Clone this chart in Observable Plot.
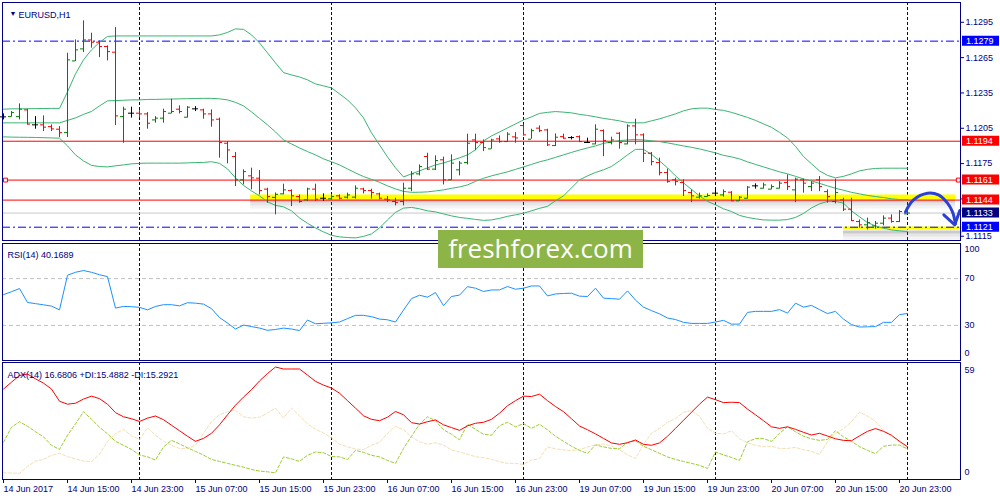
<!DOCTYPE html>
<html>
<head>
<meta charset="utf-8">
<title>EURUSD,H1</title>
<script src="https://cdn.jsdelivr.net/npm/d3@7"></script>
<script src="https://cdn.jsdelivr.net/npm/@observablehq/plot@0.6"></script>
<style>
  html, body { margin: 0; padding: 0; background: #ffffff; }
  #chart { position: relative; width: 1000px; height: 500px; overflow: hidden; background: #ffffff; }
  #chart svg { position: absolute; left: 0; }
  #wm { position: absolute; left: 438px; top: 230px; width: 205px; height: 38px; background: #8cb446; color: #ffffff;
        font-family: 'Open Sans', sans-serif; font-size: 26px; line-height: 36px; text-align: center; z-index: 5; }
</style>
</head>
<body>
<div id="chart"><div id="wm">freshforex.com</div></div>
<script>
// ---------------- DATA ----------------
const dateLabels = ["14 Jun 2017","14 Jun 15:00","14 Jun 23:00","15 Jun 07:00","15 Jun 15:00","15 Jun 23:00","16 Jun 07:00","16 Jun 15:00","16 Jun 23:00","19 Jun 07:00","19 Jun 15:00","19 Jun 23:00","20 Jun 07:00","20 Jun 15:00","20 Jun 23:00"];
const dateTickBars = [0,8,16,24,32,40,48,56,64,72,80,88,96,104,112];
const daySeparators = [17,41,65,89,113];
const priceTicks = [1.1145,1.1175,1.1205,1.1235,1.1265,1.1295];
const priceTickBottom = [1.1115];

const open = [1.12147,1.12149,1.12149,1.12206,1.12079,1.12079,1.12064,1.12042,1.12013,1.12622,
 1.12724,1.12800,1.12781,1.12744,1.12696,1.12149,1.12178,1.12178,1.12172,1.12121,
 1.12136,1.12178,1.12212,1.12144,1.12215,1.12206,1.12172,1.12127,1.11923,1.11810,
 1.11612,1.11646,1.11626,1.11533,1.11463,1.11493,1.11521,1.11470,1.11442,1.11533,
 1.11456,1.11451,1.11476,1.11465,1.11465,1.11535,1.11521,1.11493,1.11448,1.11428,
 1.11428,1.11541,1.11663,1.11810,1.11703,1.11782,1.11612,1.11697,1.11759,1.11951,
 1.11929,1.11875,1.11960,1.11937,1.11977,1.12073,1.11957,1.12051,1.12036,1.11903,
 1.11979,1.11971,1.11979,1.11929,1.11917,1.12030,1.11929,1.12008,1.11917,1.12070,
 1.11994,1.11838,1.11759,1.11674,1.11612,1.11589,1.11504,1.11465,1.11470,1.11499,
 1.11484,1.11507,1.11434,1.11456,1.11561,1.11541,1.11533,1.11541,1.11589,1.11527,
 1.11612,1.11555,1.11612,1.11512,1.11428,1.11442,1.11363,1.11258,1.11230,1.11221,
 1.11244,1.11287,1.11258,1.11323];
const high = [1.12172,1.12192,1.12257,1.12212,1.12149,1.12155,1.12079,1.12064,1.12687,1.12800,
 1.12962,1.12857,1.12792,1.12750,1.12905,1.12229,1.12229,1.12200,1.12183,1.12149,
 1.12212,1.12297,1.12240,1.12234,1.12234,1.12212,1.12206,1.12136,1.11937,1.11844,
 1.11697,1.11711,1.11691,1.11541,1.11501,1.11575,1.11527,1.11484,1.11541,1.11575,
 1.11493,1.11484,1.11484,1.11499,1.11561,1.11541,1.11533,1.11499,1.11470,1.11456,
 1.11584,1.11682,1.11739,1.11838,1.11816,1.11805,1.11824,1.11767,1.12000,1.12000,
 1.11951,1.11957,1.11985,1.12013,1.12013,1.12079,1.12042,1.12070,1.12042,1.12002,
 1.12000,1.11979,1.11985,1.11966,1.12079,1.12036,1.11974,1.12013,1.12079,1.12127,
 1.12002,1.11844,1.11796,1.11703,1.11626,1.11612,1.11527,1.11499,1.11493,1.11541,
 1.11527,1.11512,1.11470,1.11555,1.11578,1.11584,1.11569,1.11597,1.11654,1.11626,
 1.11618,1.11597,1.11640,1.11527,1.11618,1.11456,1.11456,1.11272,1.11287,1.11258,
 1.11306,1.11315,1.11351,1.11351];
const low = [1.12121,1.12144,1.12121,1.12079,1.12042,1.12022,1.12022,1.11971,1.11971,1.12616,
 1.12693,1.12730,1.12650,1.12622,1.12073,1.11923,1.12136,1.12136,1.12042,1.12093,
 1.12093,1.12172,1.12172,1.12136,1.12192,1.12127,1.12059,1.11796,1.11748,1.11555,
 1.11569,1.11527,1.11484,1.11414,1.11315,1.11484,1.11385,1.11414,1.11428,1.11428,
 1.11428,1.11442,1.11442,1.11448,1.11448,1.11493,1.11448,1.11442,1.11419,1.11391,
 1.11391,1.11512,1.11646,1.11691,1.11691,1.11569,1.11606,1.11646,1.11739,1.11860,
 1.11852,1.11872,1.11923,1.11929,1.11923,1.11985,1.11957,1.12013,1.11895,1.11895,
 1.11957,1.11951,1.11929,1.11923,1.11909,1.11809,1.11909,1.11872,1.11909,1.11909,
 1.11759,1.11731,1.11646,1.11584,1.11561,1.11470,1.11419,1.11448,1.11465,1.11470,
 1.11465,1.11428,1.11428,1.11448,1.11533,1.11533,1.11527,1.11533,1.11521,1.11419,
 1.11499,1.11512,1.11512,1.11414,1.11408,1.11343,1.11258,1.11202,1.11187,1.11193,
 1.11221,1.11244,1.11249,1.11315];
const close = [1.12147,1.12183,1.12212,1.12085,1.12079,1.12059,1.12045,1.12013,1.12631,1.12716,
 1.12800,1.12781,1.12744,1.12701,1.12155,1.12212,1.12178,1.12172,1.12093,1.12136,
 1.12192,1.12192,1.12192,1.12229,1.12215,1.12172,1.12121,1.11929,1.11866,1.11612,
 1.11682,1.11629,1.11521,1.11470,1.11489,1.11527,1.11476,1.11428,1.11535,1.11448,
 1.11456,1.11470,1.11456,1.11484,1.11541,1.11521,1.11504,1.11456,1.11442,1.11419,
 1.11541,1.11663,1.11725,1.11703,1.11776,1.11612,1.11754,1.11754,1.11923,1.11929,
 1.11886,1.11951,1.11937,1.12000,1.11968,1.11994,1.12030,1.12030,1.11909,1.11974,
 1.11966,1.11971,1.11937,1.11929,1.12042,1.11945,1.11951,1.11929,1.12070,1.11994,
 1.11838,1.11767,1.11674,1.11597,1.11597,1.11521,1.11476,1.11476,1.11479,1.11499,
 1.11512,1.11434,1.11465,1.11550,1.11561,1.11569,1.11555,1.11584,1.11555,1.11618,
 1.11584,1.11584,1.11555,1.11470,1.11504,1.11363,1.11266,1.11230,1.11249,1.11244,
 1.11287,1.11258,1.11343,1.11330];

const bbUpper = [1.12212,1.12215,1.12215,1.12216,1.12217,1.12218,1.12219,1.12219,1.12359,1.12512,
 1.12631,1.12716,1.12779,1.12830,1.12834,1.12834,1.12834,1.12834,1.12834,1.12834,
 1.12834,1.12834,1.12834,1.12834,1.12834,1.12834,1.12834,1.12843,1.12864,1.12894,
 1.12890,1.12843,1.12775,1.12690,1.12605,1.12523,1.12503,1.12486,1.12461,1.12427,
 1.12410,1.12393,1.12342,1.12291,1.12223,1.12138,1.12011,1.11909,1.11807,1.11714,
 1.11637,1.11663,1.11688,1.11714,1.11739,1.11756,1.11777,1.11799,1.11824,1.11867,
 1.11943,1.11985,1.12019,1.12053,1.12087,1.12121,1.12147,1.12176,1.12185,1.12192,
 1.12187,1.12181,1.12168,1.12159,1.12147,1.12134,1.12124,1.12113,1.12098,1.12096,
 1.12096,1.12113,1.12130,1.12151,1.12172,1.12198,1.12215,1.12221,1.12221,1.12210,
 1.12202,1.12185,1.12164,1.12142,1.12117,1.12087,1.12058,1.12015,1.11968,1.11896,
 1.11810,1.11748,1.11688,1.11650,1.11629,1.11642,1.11663,1.11688,1.11701,1.11709,
 1.11711,1.11711,1.11711,1.11711];
const bbMiddle = [1.12096,1.12096,1.12096,1.12096,1.12096,1.12096,1.12096,1.12096,1.12117,1.12138,
 1.12168,1.12193,1.12240,1.12283,1.12285,1.12288,1.12291,1.12291,1.12295,1.12295,
 1.12297,1.12298,1.12300,1.12301,1.12303,1.12304,1.12304,1.12300,1.12291,1.12270,
 1.12240,1.12189,1.12134,1.12079,1.12019,1.11951,1.11917,1.11883,1.11852,1.11824,
 1.11790,1.11765,1.11739,1.11705,1.11671,1.11640,1.11616,1.11591,1.11561,1.11535,
 1.11514,1.11506,1.11507,1.11510,1.11518,1.11527,1.11540,1.11552,1.11569,1.11599,
 1.11625,1.11646,1.11663,1.11680,1.11701,1.11722,1.11743,1.11765,1.11782,1.11803,
 1.11824,1.11845,1.11865,1.11883,1.11900,1.11922,1.11934,1.11945,1.11951,1.11954,
 1.11951,1.11943,1.11937,1.11926,1.11913,1.11900,1.11888,1.11875,1.11858,1.11841,
 1.11820,1.11807,1.11790,1.11765,1.11743,1.11722,1.11701,1.11680,1.11663,1.11642,
 1.11620,1.11603,1.11582,1.11561,1.11540,1.11524,1.11506,1.11493,1.11480,1.11470,
 1.11462,1.11451,1.11445,1.11442];
const bbLower = [1.11977,1.11975,1.11974,1.11973,1.11972,1.11970,1.11968,1.11966,1.11900,1.11824,
 1.11773,1.11735,1.11725,1.11722,1.11731,1.11739,1.11748,1.11752,1.11754,1.11754,
 1.11754,1.11754,1.11754,1.11756,1.11759,1.11760,1.11766,1.11752,1.11705,1.11629,
 1.11565,1.11518,1.11476,1.11425,1.11395,1.11383,1.11349,1.11289,1.11243,1.11204,
 1.11170,1.11141,1.11128,1.11122,1.11119,1.11132,1.11153,1.11204,1.11272,1.11336,
 1.11372,1.11378,1.11366,1.11349,1.11340,1.11323,1.11306,1.11293,1.11285,1.11276,
 1.11268,1.11272,1.11285,1.11302,1.11315,1.11329,1.11349,1.11370,1.11387,1.11434,
 1.11476,1.11544,1.11612,1.11646,1.11675,1.11697,1.11726,1.11773,1.11824,1.11871,
 1.11871,1.11828,1.11773,1.11714,1.11646,1.11586,1.11531,1.11476,1.11429,1.11400,
 1.11366,1.11343,1.11310,1.11293,1.11281,1.11272,1.11270,1.11270,1.11275,1.11293,
 1.11327,1.11374,1.11408,1.11429,1.11429,1.11414,1.11349,1.11298,1.11249,1.11221,
 1.11201,1.11187,1.11179,1.11173];

const rsi = [56.3,58.8,61.5,49.6,48.6,47.6,46.5,43.3,72.9,75.4,
 76.9,75.4,73.3,71.7,44.8,46.2,46,45.4,43.3,46.2,
 47.7,47.7,46.7,49.4,49,48.2,44.3,36.7,32,26.9,
 30.3,29,27.7,25.8,26.5,27.7,26.9,25.6,34.6,31.4,
 31.8,32.2,32.9,35.8,38.6,38.6,37.5,35.4,34.8,32.9,
 43.1,52.9,55.8,54.1,58.1,46.9,54.7,55.9,63.1,61.8,
 59,60.3,60.3,63.2,60.9,61.8,63.7,63.7,55.2,56.9,
 57.3,57.5,55,54.7,61.8,53.3,52.9,52.4,59.5,51.6,
 45.6,42.6,39.9,36.3,35,32.6,31.7,31.7,31.7,32.9,
 34.3,31.1,31.1,41.1,42,42,42,43.5,40.5,49,
 45.6,47.1,43.5,40.1,42,35.4,30.7,28.6,28.8,29,
 32.6,32.6,39.2,40.17];
const rsiLevels = [70, 30];

const adx = [46,49.5,52.9,53.6,51.2,49,46,39.8,38.3,38.8,
 40.9,42.4,41.1,38.3,34,31.9,30.9,29.5,31.2,32.3,
 30.4,27.6,24.8,22,19.4,20.9,23.5,27.8,32.9,37.8,
 41.9,45.7,50.1,53.9,57.2,56.2,56.2,56.2,53.1,49.9,
 48,46.5,43.9,40.1,36.3,32.4,30.6,29.9,31.7,34.6,
 32.9,28.9,28.2,29.4,30.3,27.8,26.4,25,27.3,28.6,
 29.1,30.6,33.7,37.5,40.1,42.4,42.2,43.4,40.1,37.1,
 34.5,30.9,27.2,25.3,23.2,20.9,18.6,17.9,18.7,20.1,
 17.9,17.4,18.6,22,26,30.1,34.2,38.3,41.9,40.6,
 39.1,39.3,39.1,35.8,32.9,29.9,26.8,26,26.8,25.5,
 24,22.6,23.5,22.1,20.7,19.9,19.7,22.2,24.5,25.9,
 24.5,22.5,19.4,16.68];
const plusDI = [18.9,26.6,29.4,27.1,24.3,21.7,17.4,15.3,22.5,28.3,
 34.5,30.6,26.6,23.2,19.4,17.4,15.3,12.5,11.5,9.9,
 16.6,19.9,18.1,16.1,14.3,12.4,10.2,9.2,8.2,7.2,
 6.3,5.1,4.3,3.9,3.4,11.5,10.5,9.2,12.3,14,
 13.6,11.7,11.5,10.2,14.8,13.8,12.3,11.5,9.7,8.2,
 15.8,22,28.1,31.9,29.9,25.3,23,20.2,28.1,25.5,
 23,22.5,27.3,29.1,26.8,28.4,26,28.1,25.3,22,
 19.4,16.9,14.8,13.3,17.6,16.6,15.8,15.6,18.9,19.7,
 16.9,15.1,13.3,11.5,10.2,9.2,8.2,7.2,5.6,14,
 12.5,11.2,9.7,19.2,20.8,20.8,19.4,23.5,26.8,24.3,
 22,20.7,19.9,20.4,24.8,21.7,19.4,16.7,14.8,13.1,
 16.9,17.5,17.5,15.49];
const minusDI = [3.4,3.3,3.1,6.6,9.4,10.2,12.3,13.3,11.6,10.5,
 9.4,9.1,12.8,19.4,23.2,25.5,22.2,20.4,26.3,22.5,
 19.4,17.4,15.8,15.8,17.4,23.5,29.4,32.9,34.5,35.2,
 31.9,31.2,31.7,33.7,36.3,31.2,36.3,32.4,28.3,25.5,
 23.7,21.2,17.9,16.6,15.5,15.2,17.4,18.9,23.5,27.1,
 25.3,21.7,19.2,17.9,18.7,17.5,15,14,12.9,11.6,
 11.1,10.3,9,8.2,8.2,7.7,9.9,10.6,16.6,15.6,
 15.1,14.6,15.3,16.5,17.6,18.1,17.1,15.1,12.5,10.7,
 17.9,23.5,26,29.1,30.9,34.2,35,32.2,26,23.5,
 23.2,24.8,20.7,18.6,17.4,16.7,16.9,15.8,15.8,16.3,
 15.1,14.3,12.8,19.2,23.5,25.8,29.4,34.2,32.2,29.6,
 25,22,19.2,15.29];

// horizontal levels drawn on the chart (price, kind)
const levelPrices = [1.1279, 1.1194, 1.1161, 1.1144, 1.1133, 1.1121];
const levelKinds  = ["blue", "red", "red", "red", "bid", "blue"];
// yellow highlighted zones (price, from bar, to bar)
const highlightPrices = [1.11466, 1.11204];
const highlightFrom = [30.9, 105];
const highlightTo = [119, 119.9];
// selected-line anchors on the 1.1161 line
const anchorBars = [0.25, 119.35];
const anchorPrice = 1.1161;
// hand-drawn forecast arrow (bar, price)
const arrowBars = [112.75, 113.75, 115.5, 116.875, 118, 118.625, 119];
const arrowPrices = [1.11340, 1.11442, 1.11499, 1.11484, 1.11414, 1.11340, 1.11238];
const arrowHeadBars = [117.54, 118.91, 119.54];
const arrowHeadPrices = [1.11315, 1.11230, 1.11351];

const rsiTitle = "RSI(14) 40.1689";
const adxTitle = "ADX(14) 16.6806 +DI:15.4882 -DI:15.2921";
const symbolTitle = "EURUSD,H1";

// ---------------- CHART ----------------
const navy = "#000080";
const font = "'Liberation Sans', Arial, sans-serif";
const chart = document.getElementById("chart");
const wm = document.getElementById("wm");
const idx = d3.range(close.length);
const bars = idx.map(i => ({i, o: open[i], h: high[i], l: low[i], c: close[i]}));
const barColor = d => d.c > d.o ? "#008000" : (d.c < d.o ? "#ff0000" : "#000000");
const levels = levelPrices.map((p, k) => ({p, kind: levelKinds[k]}));
const hl = highlightPrices.map((p, k) => ({p, from: highlightFrom[k], to: highlightTo[k], w: k === 0 ? 5 : 3}));
const anchors = anchorBars.map(i => ({i, p: anchorPrice}));
const arrow = arrowBars.map((i, k) => ({i, p: arrowPrices[k]}));
const arrowHead = arrowHeadBars.map((i, k) => ({i, p: arrowHeadPrices[k]}));
const boxColor = {blue: "#0000ff", red: "#ff0000", bid: navy};

const base = {
  width: 1000, marginLeft: 2, marginRight: 40,
  x: {domain: [-0.125, 119.625], axis: null},
  color: {type: "identity"},
  style: {fontFamily: font, fontSize: "9px", color: navy, background: "transparent", overflow: "visible"}
};
const sep = () => Plot.ruleX(daySeparators, {stroke: navy, strokeDasharray: "3,2"});

function mount(svg, top) {
  svg.style.position = "absolute";
  svg.style.top = top + "px";
  svg.style.left = "0px";
  chart.insertBefore(svg, wm);
}

const mainPlot = Plot.plot({
  ...base, height: 241, marginTop: 2, marginBottom: 1,
  y: {domain: [1.11097, 1.13118], axis: null},
  marks: [
    sep(),
    Plot.ruleY(levels.filter(d => d.kind === "bid"), {y: "p", stroke: "#c8c8c8"}),
    Plot.ruleY(hl, {y: "p", x1: "from", x2: "to", dy: 4, stroke: "#505050", strokeOpacity: 0.3, strokeWidth: 3}),
    Plot.ruleY(hl, {y: "p", x1: "from", x2: "to", dy: 7, stroke: "#808080", strokeOpacity: 0.2, strokeWidth: 3}),
    Plot.ruleY(hl, {y: "p", x1: "from", x2: "to", dy: 10, stroke: "#a0a0a0", strokeOpacity: 0.12, strokeWidth: 3}),
    Plot.ruleY(hl.filter(d => d.w === 5), {y: "p", x1: "from", x2: "to", stroke: "#ffff00", strokeWidth: 5}),
    Plot.ruleY(hl.filter(d => d.w === 3), {y: "p", x1: "from", x2: "to", stroke: "#ffff00", strokeWidth: 3}),
    Plot.ruleY(levels.filter(d => d.kind === "red"), {y: "p", stroke: "#ff0000"}),
    Plot.ruleY(levels.filter(d => d.kind === "blue"), {y: "p", stroke: "#0000ff", strokeDasharray: "8,3,2,3"}),
    Plot.dot(anchors, {x: "i", y: "p", symbol: "square", r: 2.2, stroke: "#ff0000", strokeWidth: 1, fill: "#ffffff"}),
    Plot.line(idx, {x: d => d, y: d => bbUpper[d], stroke: "#3cb371", strokeWidth: 1}),
    Plot.line(idx, {x: d => d, y: d => bbMiddle[d], stroke: "#3cb371", strokeWidth: 1}),
    Plot.line(idx, {x: d => d, y: d => bbLower[d], stroke: "#3cb371", strokeWidth: 1}),
    Plot.ruleX(bars, {x: "i", y1: "l", y2: "h", stroke: barColor}),
    Plot.ruleY(bars, {y: "o", x1: d => d.i - 0.375, x2: "i", stroke: barColor}),
    Plot.ruleY(bars, {y: "c", x1: "i", x2: d => d.i + 0.375, stroke: barColor}),
    Plot.line(arrow, {x: "i", y: "p", curve: "catmull-rom", stroke: "#2a40d6", strokeWidth: 3, strokeLinecap: "round"}),
    Plot.line(arrowHead, {x: "i", y: "p", stroke: "#2a40d6", strokeWidth: 3, strokeLinecap: "round", strokeLinejoin: "round"}),
    Plot.frame({stroke: navy}),
    Plot.axisY({anchor: "right", ticks: priceTicks, tickFormat: d => d.toFixed(4), tickSize: 3, tickPadding: 2}),
    Plot.axisY({anchor: "right", ticks: priceTickBottom, tickFormat: d => d.toFixed(4), tickSize: 3, tickPadding: 2, dy: 2}),
    Plot.ruleY(levels, {y: "p", x1: () => 119.875, x2: () => 124.5, dy: -0.5, stroke: d => boxColor[d.kind], strokeWidth: 10}),
    Plot.text(levels, {y: "p", x: () => 120.3, text: d => d.p.toFixed(4), textAnchor: "start", fill: "#ffffff"}),
    Plot.text(["\u25BC"], {frameAnchor: "top-left", dx: 7, dy: 9, fontSize: 7, fill: navy}),
    Plot.text([symbolTitle], {frameAnchor: "top-left", dx: 16, dy: 9, textAnchor: "start", fill: navy})
  ]
});
mount(mainPlot, 0);

const rsiPlot = Plot.plot({
  ...base, height: 119, marginTop: 1, marginBottom: 1,
  y: {domain: [0, 100], axis: null},
  marks: [
    Plot.ruleY(rsiLevels, {stroke: "#c0c0c0", strokeDasharray: "4,3"}),
    sep(),
    Plot.line(idx, {x: d => d, y: d => rsi[d], stroke: "#1e90ff", strokeWidth: 1}),
    Plot.frame({stroke: navy}),
    Plot.text([100], {y: d => d, frameAnchor: "right", dx: 4, dy: 6, textAnchor: "start", fill: navy}),
    Plot.text(rsiLevels, {y: d => d, frameAnchor: "right", dx: 4, textAnchor: "start", fill: navy}),
    Plot.text([0], {y: d => d, frameAnchor: "right", dx: 4, dy: -7, textAnchor: "start", fill: navy}),
    Plot.text([rsiTitle], {frameAnchor: "top-left", dx: 5, dy: 8.5, textAnchor: "start", fill: navy})
  ]
});
mount(rsiPlot, 242);

const adxPlot = Plot.plot({
  ...base, height: 139, marginTop: 1, marginBottom: 21,
  y: {domain: [0, 59.5], axis: null},
  marks: [
    sep(),
    Plot.line(idx, {x: d => d, y: d => minusDI[d], stroke: "#f5deb3", strokeWidth: 1, strokeDasharray: "3,2"}),
    Plot.line(idx, {x: d => d, y: d => plusDI[d], stroke: "#9acd32", strokeWidth: 1, strokeDasharray: "3,2"}),
    Plot.line(idx, {x: d => d, y: d => adx[d], stroke: "#ff0000", strokeWidth: 1}),
    Plot.frame({stroke: navy}),
    Plot.axisX({ticks: dateTickBars, tickFormat: d => dateLabels[dateTickBars.indexOf(d)], textAnchor: "start", tickSize: 4, tickPadding: 2}),
    Plot.text([59], {y: d => d, frameAnchor: "right", dx: 4, dy: 7, textAnchor: "start", fill: navy}),
    Plot.text([0], {y: d => d, frameAnchor: "right", dx: 4, dy: -7, textAnchor: "start", fill: navy}),
    Plot.text([adxTitle], {frameAnchor: "top-left", dx: 5, dy: 9, textAnchor: "start", fill: navy})
  ]
});
mount(adxPlot, 361);
</script>
</body>
</html>
